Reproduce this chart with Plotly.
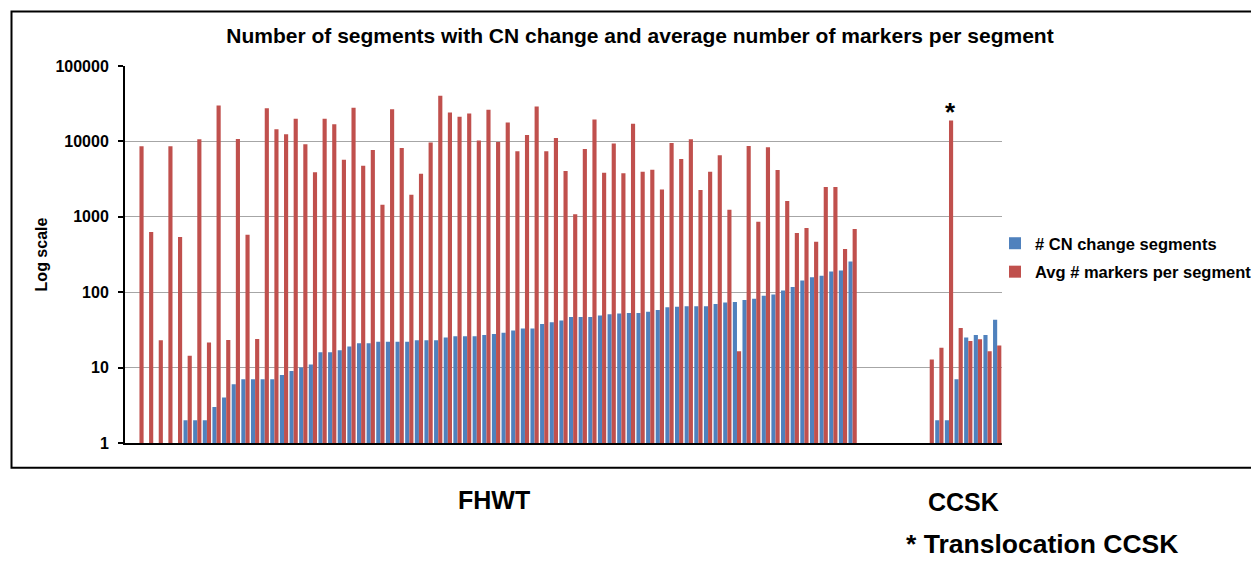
import plotly.graph_objects as go
import math

# ---- data ----
fhwt_cn = [None, 1, 1, 1, 1, 1, 2, 2, 2, 3, 4, 6, 7, 7, 7, 7, 8, 9, 10, 11, 16, 16, 17, 19, 21,
           21, 22, 22, 22, 22, 23, 23, 23, 25, 26, 26, 26, 27, 28, 29, 31, 33, 33, 38, 40,
           42, 47, 47, 47, 49, 51, 52, 53, 53, 55, 58, 63, 64, 65, 65, 65, 70, 73, 74, 79,
           82, 90, 93, 105, 117, 143, 158, 165, 188, 194, 256]
fhwt_markers = [None, 8600, 630, 23, 8600, 540, 14.4, 10700, 21.5, 30000, 23.3, 10800, 578, 24,
                27500, 14500, 12400, 19900, 9150, 3890, 19900, 16900, 5730, 27900, 4770,
                7710, 1450, 26700, 8190, 1965, 3735, 9640, 40200, 24100, 21300, 23400, 10240,
                26200, 9850, 17800, 7390, 12200, 29000, 7390, 11100, 4060, 1077, 7950, 19500,
                3850, 9350, 3770, 17100, 3970, 4220, 2310, 9550, 5850, 10660, 2265, 3970,
                6540, 1243, 16.5, 8710, 861, 8350, 4180, 1622, 609, 710, 467, 2490, 2480,
                373, 689]
gap_count = 7
ccsk_cn = [1, 2, 2, 7, 25, 27, 27, 43]
ccsk_markers = [12.8, 18.4, 18900, 33.4, 22.6, 23.8, 16.5, 19.6]
translocation_index = 2  # CCSK sample marked with *

tick_vals = [1, 10, 100, 1000, 10000, 100000]
tick_text = ["1", "10", "100", "1000", "10000", "100000"]

series_names = ["# CN change segments", "Avg # markers per segment"]
colors = ["#4F81BD", "#C0504D"]

# ---- build positions ----
cn = fhwt_cn + [None] * gap_count + ccsk_cn
markers = fhwt_markers + [None] * gap_count + ccsk_markers
x = list(range(len(cn)))
fhwt_pos = x[:len(fhwt_cn)]
ccsk_pos = x[len(fhwt_cn) + gap_count:]

FONT = "Liberation Sans, Arial, sans-serif"

# page body adds an 8px offset; layout is expressed in reference pixels minus 8
W, H = 1251, 553
L, T, PW, PH = 117, 58, 877, 377


def px_x(px):
    return (px - 8 - L) / PW


def px_y(py):
    return (T + PH - (py - 8)) / PH


fig = go.Figure()
fig.add_trace(go.Bar(x=x, y=cn, name=series_names[0], legendgroup="a",
                     marker=dict(color=colors[0], line=dict(width=0))))
fig.add_trace(go.Bar(x=x, y=markers, name=series_names[1], legendgroup="b",
                     marker=dict(color=colors[1], line=dict(width=0))))

annotations = [
    dict(x=sum(fhwt_pos) / len(fhwt_pos) + 0.3, y=px_y(500), xref="x", yref="paper", text="FHWT",
         showarrow=False, font=dict(size=25, family=FONT, color="black", weight="bold"),
         xanchor="center", yanchor="middle"),
    dict(x=sum(ccsk_pos) / len(ccsk_pos), y=px_y(502), xref="x", yref="paper", text="CCSK",
         showarrow=False, font=dict(size=25, family=FONT, color="black", weight="bold"),
         xanchor="center", yanchor="middle"),
    dict(x=px_x(1042), y=px_y(544), xref="paper", yref="paper", text="* Translocation CCSK",
         showarrow=False, borderpad=0,
         font=dict(size=26.5, family=FONT, color="black", weight="bold"),
         xanchor="center", yanchor="middle"),
    dict(x=ccsk_pos[translocation_index] + 0.18, y=math.log10(ccsk_markers[translocation_index]),
         xref="x", yref="y", text="*", showarrow=False, yanchor="bottom", yshift=-8,
         font=dict(size=26, family=FONT, color="black", weight="bold")),
]

fig.update_layout(
    width=W, height=H,
    margin=dict(l=L, r=W - L - PW, t=T, b=H - T - PH, autoexpand=False),
    paper_bgcolor="white", plot_bgcolor="white",
    barmode="group", bargap=0.14, bargroupgap=0,
    title=dict(text="Number of segments with CN change and average number of markers per segment",
               x=(640 - 8) / W, xref="container", y=1 - (36 - 8) / H, yref="container",
               xanchor="center", yanchor="middle",
               font=dict(size=21, family=FONT, color="black", weight="bold")),
    font=dict(family=FONT, color="black"),
    xaxis=dict(range=[-0.5, len(x) - 0.5], showticklabels=False, ticks="",
               showgrid=False, zeroline=False, showline=True, linecolor="black", linewidth=2),
    yaxis=dict(type="log", range=[0, 5], tickvals=tick_vals, ticktext=tick_text,
               ticks="outside", ticklen=5, tickwidth=2, tickcolor="black",
               ticklabelstandoff=6,
               tickfont=dict(size=16, family=FONT, color="black", weight="bold"),
               showgrid=True, gridcolor="#A6A6A6", gridwidth=1,
               showline=True, linecolor="black", linewidth=2, zeroline=False,
               title=dict(text="Log scale", standoff=4,
                          font=dict(size=16, family=FONT, color="black", weight="bold"))),
    legend=dict(x=px_x(995), y=px_y(257.5), xanchor="left", yanchor="middle",
                traceorder="grouped", tracegroupgap=4,
                font=dict(size=16.5, family=FONT, color="black", weight="bold"),
                bgcolor="rgba(0,0,0,0)"),
    annotations=annotations,
    shapes=[dict(type="rect", xref="paper", yref="paper",
                 x0=px_x(11.5), x1=px_x(1275),
                 y0=px_y(467.7), y1=px_y(11.5),
                 line=dict(color="black", width=2), fillcolor="rgba(0,0,0,0)", layer="below")],
)

fig.write_html("out.html")
